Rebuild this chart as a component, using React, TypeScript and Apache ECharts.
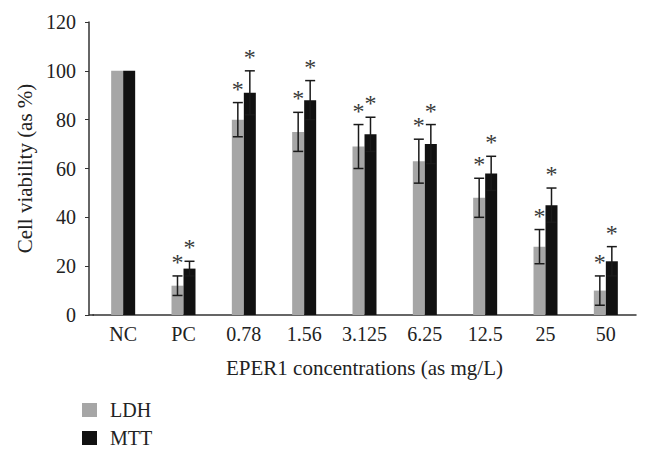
import React, { useEffect, useRef } from "react";
import * as echarts from "echarts";

const categories = ["NC", "PC", "0.78", "1.56", "3.125", "6.25", "12.5", "25", "50"];
const ldhValues = [100, 12, 80, 75, 69, 63, 48, 28, 10];
const ldhErrors = [0, 4, 7, 8, 9, 9, 8, 7, 6];
const mttValues = [100, 19, 91, 88, 74, 70, 58, 45, 22];
const mttErrors = [0, 3, 9, 8, 7, 8, 7, 7, 6];
const ldhSignificant = [0, 1, 1, 1, 1, 1, 1, 1, 1];
const mttSignificant = [0, 1, 1, 1, 1, 1, 1, 1, 1];
const yTicks = { min: 0, max: 120, interval: 20 };

const FONT = "Liberation Serif";
const GRAY = "#a6a6a6";
const BLACK = "#111111";

function makeRender(shift: number) {
  return (params: any, api: any) => {
    const i = api.value(0);
    const v = api.value(1);
    const e = api.value(2);
    const sig = api.value(3);
    const c = api.coord([i, v]);
    const x = c[0] + shift;
    const top = api.coord([i, v + e])[1];
    const bot = api.coord([i, v - e])[1];
    const lineStyle = { stroke: "#1a1a1a", lineWidth: 1.5 };
    const children: any[] = [];
    if (e > 0) {
      children.push({ type: "line", shape: { x1: x, y1: top, x2: x, y2: bot }, style: lineStyle });
      children.push({ type: "line", shape: { x1: x - 5, y1: top, x2: x + 5, y2: top }, style: lineStyle });
      children.push({ type: "line", shape: { x1: x - 5, y1: bot, x2: x + 5, y2: bot }, style: lineStyle });
    }
    if (sig) {
      children.push({
        type: "text",
        x: x,
        y: top - 14,
        style: {
          text: "*",
          fontSize: 24,
          fontFamily: FONT,
          fill: "#3a3a3a",
          stroke: "none",
          lineWidth: 0,
          align: "center",
          verticalAlign: "middle",
        },
      });
    }
    return { type: "group", children };
  };
}

export default function App() {
  const ref = useRef<HTMLDivElement>(null);
  useEffect(() => {
    document.body.style.margin = "0";
    if (!ref.current) return;
    const chart = echarts.init(ref.current, undefined, { renderer: "svg" });
    const ldhErrData = categories.map((_, i) => [i, ldhValues[i], ldhErrors[i], ldhSignificant[i]]);
    const mttErrData = categories.map((_, i) => [i, mttValues[i], mttErrors[i], mttSignificant[i]]);
    chart.setOption({
      animation: false,
      backgroundColor: "#ffffff",
      grid: { left: 93, right: 14, top: 22, bottom: 144 },
      legend: {
        data: ["LDH", "MTT"],
        orient: "vertical",
        left: 82,
        top: 400,
        padding: 0,
        icon: "rect",
        itemWidth: 15,
        itemHeight: 14,
        itemGap: 8,
        textStyle: { fontFamily: FONT, fontSize: 20, color: "#222", padding: [0, 0, 0, 8] },
      },
      xAxis: {
        type: "category",
        data: categories,
        name: "EPER1 concentrations (as mg/L)",
        nameLocation: "middle",
        nameGap: 42,
        nameTextStyle: { fontFamily: FONT, fontSize: 21, color: "#222" },
        axisLine: { lineStyle: { color: "#333", width: 1.5 } },
        axisTick: { show: false },
        axisLabel: { fontFamily: FONT, fontSize: 20, color: "#222", margin: 9 },
      },
      yAxis: {
        type: "value",
        min: yTicks.min,
        max: yTicks.max,
        interval: yTicks.interval,
        offset: 4,
        name: "Cell viability (as %)",
        nameLocation: "middle",
        nameGap: 50,
        nameTextStyle: { fontFamily: FONT, fontSize: 21, color: "#222" },
        axisLine: { show: true, lineStyle: { color: "#333", width: 1.5 } },
        axisTick: { show: true, length: 4, lineStyle: { color: "#333" } },
        axisLabel: { fontFamily: FONT, fontSize: 20, color: "#222", margin: 13 },
        splitLine: { show: false },
      },
      graphic: [
        {
          type: "line",
          shape: { x1: 89, y1: 315, x2: 94, y2: 315 },
          style: { stroke: "#333", lineWidth: 1.5 },
        },
      ],
      series: [
        { name: "LDH", type: "bar", data: ldhValues, barWidth: 12, barGap: "0%", itemStyle: { color: GRAY } },
        { name: "MTT", type: "bar", data: mttValues, barWidth: 12, barGap: "0%", itemStyle: { color: BLACK } },
        { type: "custom", data: ldhErrData, renderItem: makeRender(-6), encode: { x: 0, y: 1 }, z: 5 },
        { type: "custom", data: mttErrData, renderItem: makeRender(6), encode: { x: 0, y: 1 }, z: 5 },
      ],
    });
    return () => chart.dispose();
  }, []);
  return <div ref={ref} style={{ width: 650, height: 459 }} />;
}
